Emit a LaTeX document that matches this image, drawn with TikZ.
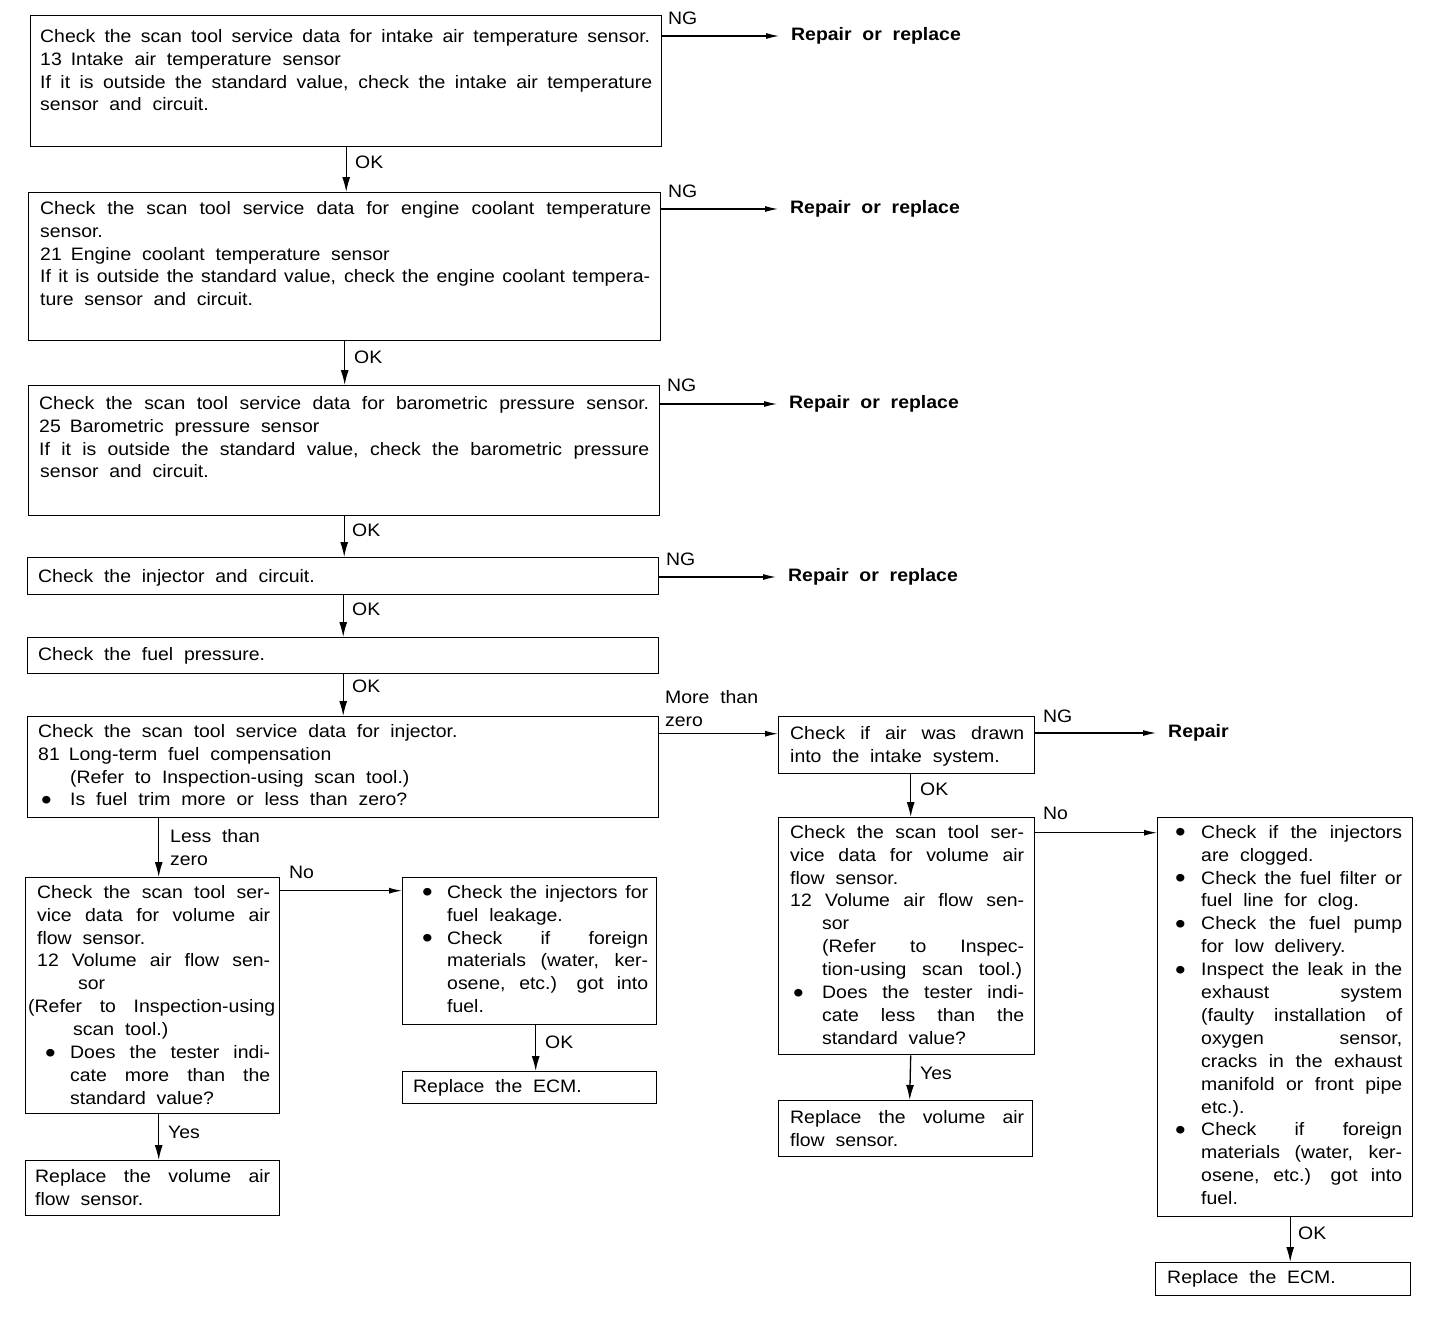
\documentclass[tikz,border=0pt]{standalone}
\usepackage{fontspec}
\setmainfont{Liberation Sans}[FakeStretch=1.08, WordSpace={2,1.5,3}]
\usetikzlibrary{arrows.meta}
\newcommand\J[2]{\makebox[#1pt][s]{#2}}
\newcommand\I[1]{\hspace*{#1pt}}
\newcommand\bulg{\raisebox{-3.5pt}{\fontsize{28}{0}\selectfont •}}
\newcommand\Bul[2]{\hspace*{#1pt}\makebox[#2pt][l]{\bulg}}
\begin{document}
\begin{tikzpicture}[x=1pt,y=-1pt,
  box/.style={draw, line width=1.4pt, anchor=north west, inner sep=0pt},
  txt/.style={anchor=north west, inner sep=0pt, align=left, font=\fontsize{18}{22.9}\selectfont},
  lab/.style={anchor=west, inner sep=0pt, font=\fontsize{18}{20}\selectfont},
  rep/.style={anchor=west, inner sep=0pt, font=\fontsize{18}{20}\selectfont\bfseries},
  arr/.style={line width=1.1pt, -{Latex[length=13pt,width=6pt]}},
  varr/.style={line width=1.3pt, -{Latex[length=15pt,width=8pt]}}]
\useasboundingbox (0,0) rectangle (1456,1322);
% boxes
\node[box, minimum width=631pt, minimum height=131pt] (b1) at (30,15) {};
\node[box, minimum width=632pt, minimum height=148pt] (b2) at (28,192) {};
\node[box, minimum width=631pt, minimum height=130pt] (b3) at (28,385) {};
\node[box, minimum width=631pt, minimum height=37pt] (b4) at (27,557) {};
\node[box, minimum width=631pt, minimum height=36pt] (b5) at (27,637) {};
\node[box, minimum width=631pt, minimum height=101pt] (b6) at (27,716) {};
\node[box, minimum width=256pt, minimum height=57pt] (b7) at (778,716) {};
\node[box, minimum width=256pt, minimum height=237pt] (b8) at (778,817) {};
\node[box, minimum width=255pt, minimum height=399pt] (b9) at (1157,817) {};
\node[box, minimum width=254pt, minimum height=236pt] (b10) at (25,877) {};
\node[box, minimum width=254pt, minimum height=147pt] (b11) at (402,877) {};
\node[box, minimum width=254pt, minimum height=32pt] (b12) at (402,1071) {};
\node[box, minimum width=254pt, minimum height=55pt] (b13) at (25,1160) {};
\node[box, minimum width=254pt, minimum height=56pt] (b14) at (778,1100) {};
\node[box, minimum width=255pt, minimum height=33pt] (b15) at (1155,1262) {};
% texts
\node[txt] (t1) at (40,29) {\J{610}{Check the scan tool service data for intake air temperature sensor.}\\
13\hspace{0.5em}Intake air temperature sensor\\
\J{612}{If it is outside the standard value, check the intake air temperature}\\
sensor and circuit.};
\node[txt] (t2) at (40,201) {\J{611}{Check the scan tool service data for engine coolant temperature}\\
sensor.\\
21\hspace{0.5em}Engine coolant temperature sensor\\
\J{610}{If it is outside the standard value, check the engine coolant tempera-}\\
ture sensor and circuit.};
\node[txt] (t3) at (39,396) {\J{610}{Check the scan tool service data for barometric pressure sensor.}\\
25\hspace{0.5em}Barometric pressure sensor\\
\J{610}{If it is outside the standard value, check the barometric pressure}\\
\I{1}sensor and circuit.};
\node[txt] (t4) at (38,569) {Check the injector and circuit.};
\node[txt] (t5) at (38,647) {Check the fuel pressure.};
\node[txt] (t6) at (38,724) {Check the scan tool service data for injector.\\
81\hspace{0.5em}Long-term fuel compensation\\
\I{32}(Refer to Inspection-using scan tool.)\\
\Bul{3}{29}Is fuel trim more or less than zero?};
\node[txt] (t7) at (790,726) {\J{234}{Check if air was drawn}\\
into the intake system.};
\node[txt] (t8) at (790,825) {\J{234}{Check the scan tool ser-}\\
\J{234}{vice data for volume air}\\
flow sensor.\\
\J{234}{12 Volume air flow sen-}\\
\I{32}sor\\
\I{32}\J{202}{(Refer to Inspec-}\\
\I{32}\J{200}{tion-using scan tool.)}\\
\Bul{3}{29}\J{202}{Does the tester indi-}\\
\I{32}\J{202}{cate less than the}\\
\I{32}standard value?};
\node[txt] (t9) at (1175,825) {\Bul{0}{26}\J{201}{Check if the injectors}\\
\I{26}are clogged.\\
\Bul{0}{26}\J{201}{Check the fuel filter or}\\
\I{26}fuel line for clog.\\
\Bul{0}{26}\J{201}{Check the fuel pump}\\
\I{26}for low delivery.\\
\Bul{0}{26}\J{201}{Inspect the leak in the}\\
\I{26}\J{201}{exhaust system}\\
\I{26}\J{201}{(faulty installation of}\\
\I{26}\J{201}{oxygen sensor,}\\
\I{26}\J{201}{cracks in the exhaust}\\
\I{26}\J{201}{manifold or front pipe}\\
\I{26}etc.).\\
\Bul{0}{26}\J{201}{Check if foreign}\\
\I{26}\J{201}{materials (water, ker-}\\
\I{26}\J{201}{osene, etc.) got into}\\
\I{26}fuel.};
\node[txt] (t10) at (28,885) {\I{9}\J{233}{Check the scan tool ser-}\\
\I{9}\J{233}{vice data for volume air}\\
\I{9}flow sensor.\\
\I{9}\J{233}{12 Volume air flow sen-}\\
\I{50}sor\\
\J{247}{(Refer to Inspection-using}\\
\I{45}scan tool.)\\
\Bul{17}{25}\J{200}{Does the tester indi-}\\
\I{42}\J{200}{cate more than the}\\
\I{42}standard value?};
\node[txt] (t11) at (422,885) {\Bul{0}{25}\J{201}{Check the injectors for}\\
\I{25}fuel leakage.\\
\Bul{0}{25}\J{201}{Check if foreign}\\
\I{25}\J{201}{materials (water, ker-}\\
\I{25}\J{201}{osene, etc.) got into}\\
\I{25}fuel.};
\node[txt] (t12) at (413,1079) {Replace the ECM.};
\node[txt] (t13) at (35,1169) {\J{235}{Replace the volume air}\\
flow sensor.};
\node[txt] (t14) at (790,1110) {\J{234}{Replace the volume air}\\
flow sensor.};
\node[txt] (t15) at (1167,1270) {Replace the ECM.};
% repair nodes
\node[rep] (r1) at (791,36) {Repair or replace};
\node[rep] (r2) at (790,209) {Repair or replace};
\node[rep] (r3) at (789,404) {Repair or replace};
\node[rep] (r4) at (788,577) {Repair or replace};
\node[rep] (r7) at (1168,733) {Repair};
% NG arrows
\draw[arr, shorten >=12pt] (b1.east |- r1.west) -- (r1.west);
\draw[arr, shorten >=12pt] (b2.east |- r2.west) -- (r2.west);
\draw[arr, shorten >=12pt] (b3.east |- r3.west) -- (r3.west);
\draw[arr, shorten >=12pt] (b4.east |- r4.west) -- (r4.west);
\draw[arr, shorten >=12pt] (b7.east |- r7.west) -- (r7.west);
\node[lab] (ng1) at (668,18) {NG};
\node[lab] (ng2) at (668,191) {NG};
\node[lab] (ng3) at (667,385) {NG};
\node[lab] (ng4) at (666,559) {NG};
\node[lab] (ng7) at (1043,716) {NG};
% OK arrows
\draw[varr] (b1.south) -- (b1.south |- b2.north);
\draw[varr] (b2.south) -- (b2.south |- b3.north);
\draw[varr] (b3.south) -- (b3.south |- b4.north);
\draw[varr] (b4.south) -- (b4.south |- b5.north);
\draw[varr] (b5.south) -- (b5.south |- b6.north);
\node[lab] (ok1) at (355,162) {OK};
\node[lab] (ok2) at (354,357) {OK};
\node[lab] (ok3) at (352,530) {OK};
\node[lab] (ok4) at (352,609) {OK};
\node[lab] (ok5) at (352,686) {OK};
% more than zero
\coordinate (m1) at ([yshift=11.5pt]b7.west);
\draw[arr] (b6.east |- m1) -- (m1);
\node[txt] (lm) at (665,690) {More than\\zero};
% less than zero
\draw[varr] ([xshift=6pt]b10.north |- b6.south) -- ([xshift=6pt]b10.north);
\node[txt] (ll) at (170,829) {Less than\\zero};
% No left
\coordinate (n1) at ([yshift=60.5pt]b11.west);
\draw[arr] (b10.east |- n1) -- (n1);
\node[lab] (no1) at (289,872) {No};
% Yes left
\draw[varr] ([xshift=6pt]b10.south) -- ([xshift=6pt]b13.north);
\node[lab] (yes1) at (168,1132) {Yes};
% OK mid
\draw[varr] ([xshift=6pt]b11.south) -- ([xshift=6pt]b12.north);
\node[lab] (ok6) at (545,1042) {OK};
% OK right of air drawn
\draw[varr] ([xshift=4pt]b7.south) -- ([xshift=4pt]b8.north);
\node[lab] (ok7) at (920,789) {OK};
% No right
\coordinate (n2) at ([yshift=184.5pt]b9.west);
\draw[arr] (b8.east |- n2) -- (n2);
\node[lab] (no2) at (1043,813) {No};
% Yes right
\draw[varr] ([xshift=4pt]b8.south) -- ([xshift=4pt]b14.north);
\node[lab] (yes2) at (920,1073) {Yes};
% OK bottom right
\draw[varr] ([xshift=5pt]b9.south) -- ([xshift=5pt]b9.south |- b15.north);
\node[lab] (ok8) at (1298,1233) {OK};
\end{tikzpicture}
\end{document}
